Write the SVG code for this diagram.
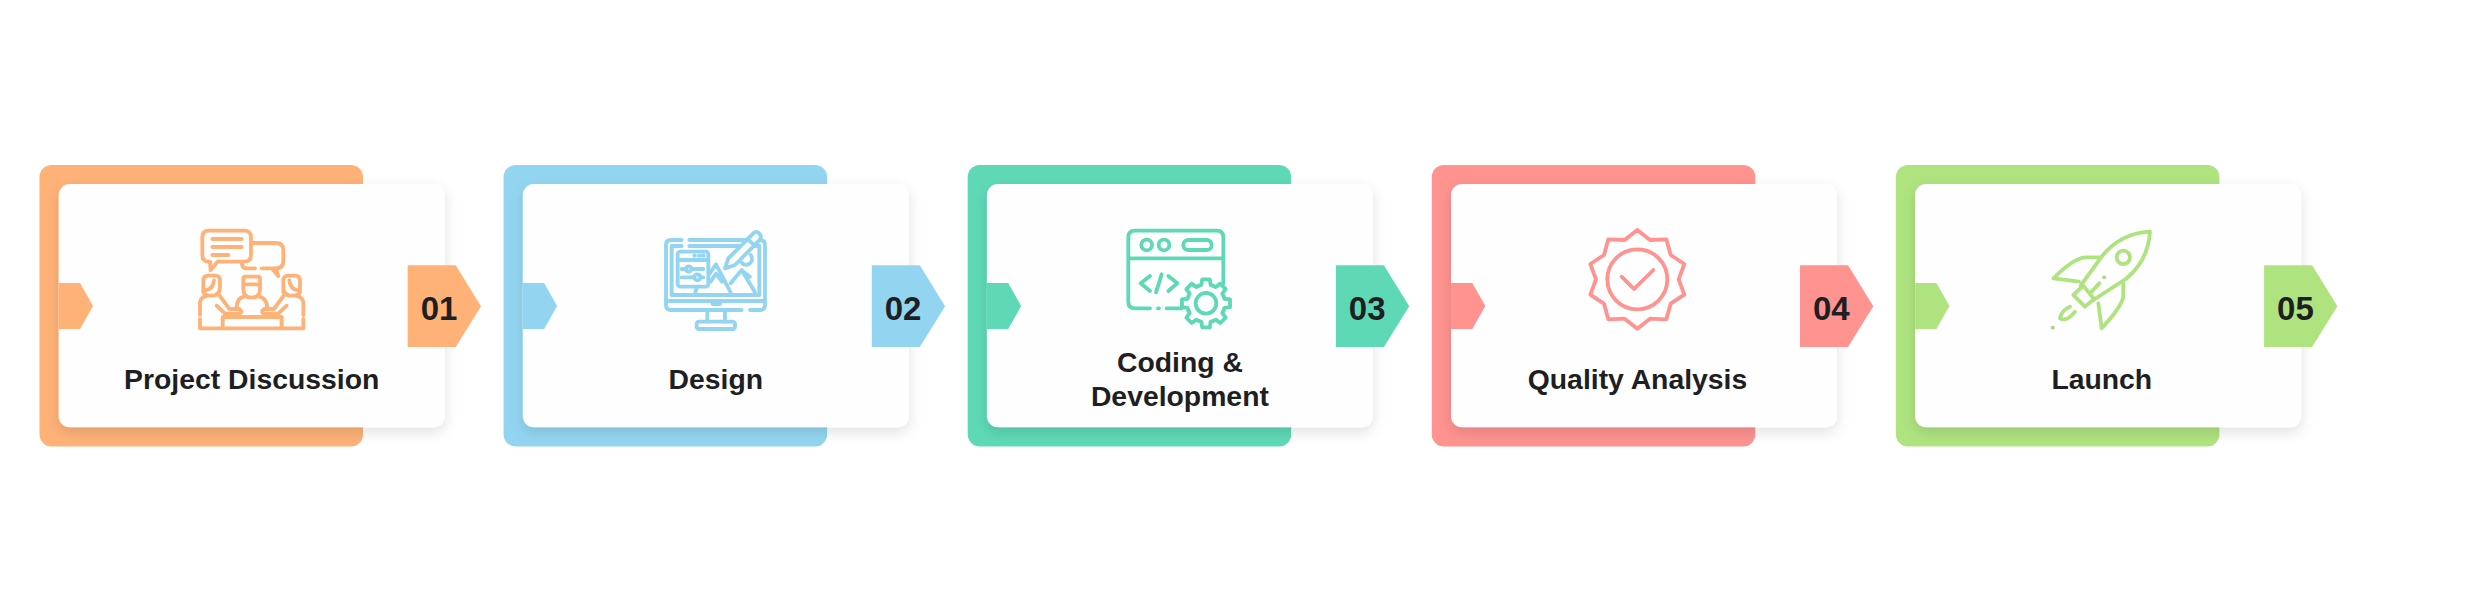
<svg xmlns="http://www.w3.org/2000/svg" xmlns:xlink="http://www.w3.org/1999/xlink" width="2483" height="612" viewBox="0 0 2483 612">
<style>
text{font-family:"Liberation Sans",Arial,sans-serif;font-weight:700;fill:#1e1f22;text-anchor:middle}
.t{font-size:28.35px}.n{font-size:33px}
.i{fill:none;stroke:currentColor;stroke-width:11.5;stroke-linecap:round;stroke-linejoin:round;filter:url(#soft)}
.w{fill:#fefefe}
</style>
<defs>
<filter id="sh" x="-15%" y="-15%" width="130%" height="135%"><feDropShadow dx="0" dy="5" stdDeviation="7" flood-color="#000" flood-opacity=".12"/></filter>
<filter id="soft" x="-5%" y="-5%" width="110%" height="110%"><feGaussianBlur stdDeviation="1.4"/></filter>
<g id="base">
<rect x="39.5" y="165" width="323.5" height="281.5" rx="12" fill="currentColor"/>
<rect x="58.7" y="184" width="386" height="243.3" rx="11" fill="#fefefe" filter="url(#sh)"/>
<path d="M58.7 283H80L93 306 80 329H58.7Z" fill="currentColor"/>
<path d="M407.7 265.3H455.7L481 306.2 455.7 347H407.7Z" fill="currentColor"/>
</g>
<path id="tooth" d="M52.66 -21.81L55.31 -13.79 72.1 -11.42V11.42L55.31 13.79 52.66 21.81"/>
</defs>
<rect width="2483" height="612" fill="#fff"/>

<g id="node-1" color="#ffb278">
<use href="#base"/>
<g class="i" transform="translate(170,215) scale(.3333)">
<path d="M117 47H223Q243 47 243 67V120Q243 140 223 140H143L122 165 120 140H117Q97 140 97 120V67Q97 47 117 47Z"/>
<path d="M127 72H215M127 96H215M127 120H175"/>
<path d="M245 84H318Q340 84 340 106V138Q340 160 318 160H305L325 183 318 160M300 160H275M255 160H230Q218 160 216 148"/>
<path d="M100 232V197Q100 182 115 182H135Q150 182 150 197V215Q150 242 124 242Q105 242 100 232ZM132 196Q130 222 106 226"/>
<path d="M90 300V262Q92 246 112 242M140 272L165 296H208Q220 290 208 282H178L155 250 147 240"/>
<path d="M220 198V190Q220 185 226 185H264Q270 185 270 190V222Q270 248 245 248Q220 248 220 222ZM220 208H270"/>
<path d="M222 245Q200 250 200 278M268 245Q290 250 292 278"/>
<path d="M340 232V197Q340 182 355 182H375Q390 182 390 197V232Q385 242 366 242Q340 242 340 215V197M358 196Q360 222 384 226"/>
<path d="M400 300V262Q398 246 378 242M350 272L325 296H282Q270 290 282 282H312L335 250 343 240"/>
<path d="M90 312V340H400V312M158 340V306H335V340"/>
</g>
<text class="t" x="251.7" y="389">Project Discussion</text>
<text class="n" x="439" y="320">01</text>
</g>

<g id="node-2" color="#93d5f1" transform="translate(464.1,0)">
<use href="#base"/>
<g class="i" transform="translate(175.9,215) scale(.3333)">
<path d="M125 75H93Q78 75 78 90V270Q78 285 93 285H305M330 285H360Q375 285 375 270V90Q375 75 360 75H345M148 75H318"/>
<path d="M125 93H95V240H358V93H340M148 93H300"/>
<path d="M80 258H372M218 267H240M202 287V320M255 287V320"/>
<rect x="170" y="320" width="115" height="22" rx="7"/>
<rect x="113" y="110" width="92" height="105" rx="8"/>
<path d="M115 135H203M125 162H190M125 187H190M170 218 165 238"/>
<circle class="w" cx="146" cy="162" r="8"/><circle class="w" cx="172" cy="187" r="9"/>
<path d="M163 122H165M177 122H179M189 122H191"/>
<path d="M207 178 228 148 272 232M212 200 228 176 246 200M272 205 305 165 345 232M310 170 330 185"/>
<path class="w" d="M255 160 265 130 340 55Q350 45 360 58 366 68 358 76L285 150Z"/>
<path d="M322 72 345 92"/>
<path d="M305 143A16 16 0 1 0 332 120"/>
</g>
<text class="t" x="251.7" y="389">Design</text>
<text class="n" x="439" y="320">02</text>
</g>

<g id="node-3" color="#5fd9b5" transform="translate(928.2,0)">
<use href="#base"/>
<g class="i" transform="translate(171.8,215) scale(.3333)">
<path d="M150 280H105Q85 280 85 260V67Q85 47 105 47H350Q370 47 370 67V205M85 130H370M174 280H177M200 280H245"/>
<circle cx="140" cy="90" r="16"/><circle cx="192" cy="90" r="16"/>
<rect x="250" y="75" width="85" height="30" rx="15"/>
<path d="M150 183 122 205 150 228M185 178 168 232M205 183 232 205 205 228"/>
<g transform="translate(318,265)">
<circle r="56" class="w" stroke="none"/>
<use href="#tooth"/><use href="#tooth" transform="rotate(45)"/><use href="#tooth" transform="rotate(90)"/><use href="#tooth" transform="rotate(135)"/><use href="#tooth" transform="rotate(180)"/><use href="#tooth" transform="rotate(225)"/><use href="#tooth" transform="rotate(270)"/><use href="#tooth" transform="rotate(315)"/>
<circle r="31"/>
</g>
</g>
<text class="t" x="251.7" y="372">Coding &amp;</text>
<text class="t" x="251.7" y="406">Development</text>
<text class="n" x="439" y="320">03</text>
</g>

<g id="node-4" color="#ff9390" transform="translate(1392.3,0)">
<use href="#base"/>
<g class="i" transform="translate(167.7,215) scale(.3333)">
<path d="M232 45 270 75 319 73 332 120 373 147 356 193 373 239 332 266 319 313 270 311 232 341 194 311 145 313 132 266 91 239 108 193 91 147 132 120 145 73 194 75Z"/>
<circle cx="232" cy="193" r="90"/>
<path d="M185 185 222 222 280 165"/>
</g>
<text class="t" x="245.2" y="389">Quality Analysis</text>
<text class="n" x="439" y="320">04</text>
</g>

<g id="node-5" color="#afe380" transform="translate(1856.4,0)">
<use href="#base"/>
<g class="i" transform="translate(173.6,215) scale(.3333)">
<path d="M152 212 215 125Q270 55 360 50 355 135 290 190L190 255"/>
<path d="M130 240 160 212 192 252 165 275Z"/>
<path d="M208 205 180 235"/>
<path d="M212 127H165Q130 130 70 190L147 200"/>
<path d="M280 205V245Q275 275 215 340L205 265"/>
<circle cx="280" cy="127" r="20"/>
<path d="M120 275Q95 285 90 310 110 322 135 290"/>
<path d="M222 187H223M68 338H69" stroke="#b5d08f"/>
</g>
<text class="t" x="245.4" y="389">Launch</text>
<text class="n" x="439" y="320">05</text>
</g>

<g id="connectors"/>
</svg>
